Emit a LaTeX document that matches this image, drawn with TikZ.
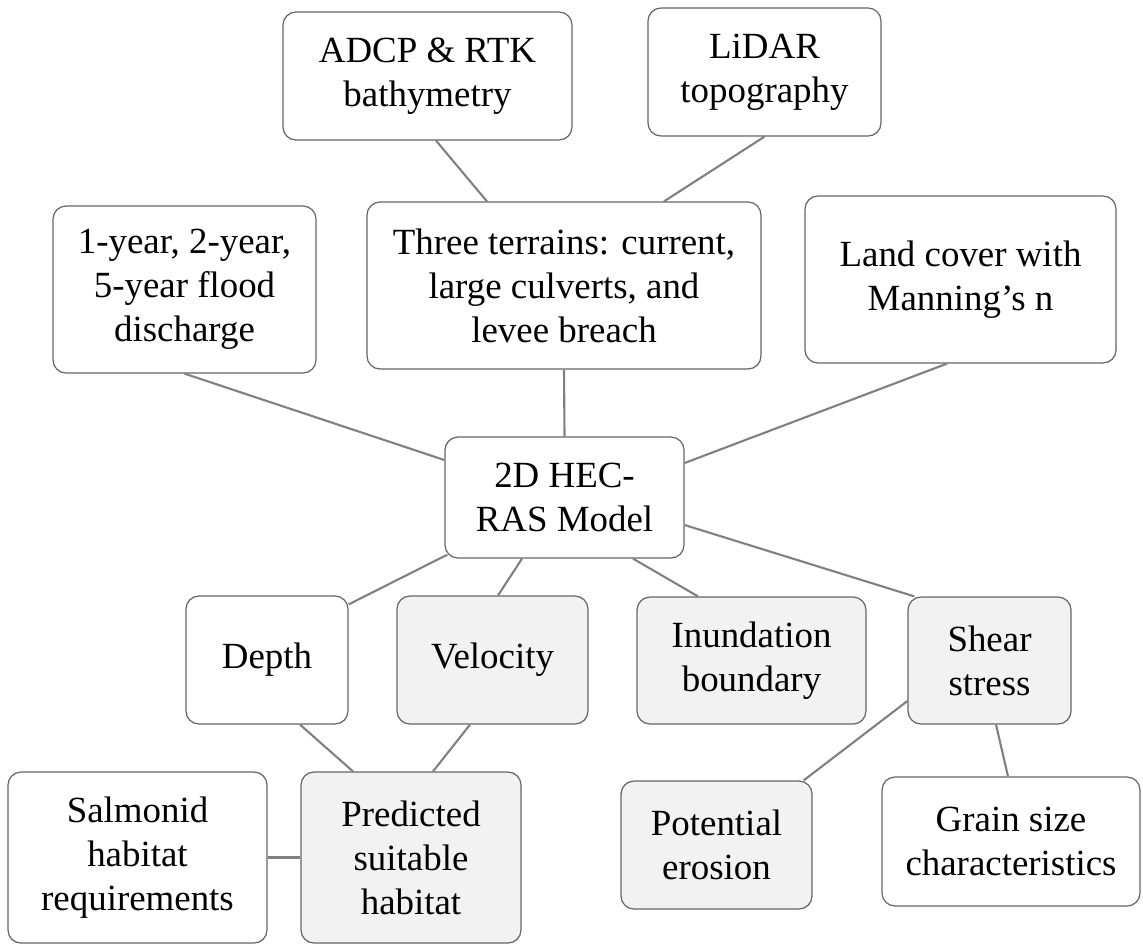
\documentclass[tikz,border=0pt]{standalone}
\usepackage{fontspec}
\setmainfont{Liberation Serif}
\usepackage{tikz}
\tikzset{
    every node/.style={align=center,font=\fontsize{10.5}{12.5}\selectfont,},
    box/.style={draw=black!60,line width=0.35pt,rectangle,rounded corners=1.3mm,inner sep=0pt,fill=white,},
    result/.style={box,fill=black!5,},
    link/.style={draw=black!50,line width=0.6pt,},
}

\begin{document}
\begin{tikzpicture}[x=0.1mm,y=-0.1mm]
                \useasboundingbox (0,0) rectangle (1143,945);

                % inputs
                \node[box,minimum width=28.9mm,minimum height=12.8mm] (adcp) at (427.5,76) {ADCP \& RTK\\bathymetry};
                \node[box,minimum width=23.3mm,minimum height=12.8mm] (lidar) at (764.5,72) {LiDAR\\topography};
                \node[box,minimum width=26.3mm,minimum height=16.7mm] (flood) at (184.5,289.5) {1-year, 2-year,\\5-year flood\\discharge};
                \node[box,minimum width=39.4mm,minimum height=16.7mm] (terrain) at (564,285.5) {Three terrains: current,\\large culverts, and\\levee breach};
                \node[box,minimum width=31.1mm,minimum height=16.7mm] (land_cover) at (960.5,279.5) {Land cover with\\Manning's n};

                \node[box,minimum width=23.9mm,minimum height=12.1mm] (hec_ras) at (564.5,497.5) {2D HEC-\\RAS Model};

                % outputs
                \node[box,minimum width=16.2mm,minimum height=12.8mm] (depth) at (267,660) {Depth};
                \node[result,minimum width=19.1mm,minimum height=12.8mm] (velocity) at (492.5,660) {Velocity};
                \node[result,minimum width=22.9mm,minimum height=12.7mm] (inundation) at (751.5,660.5) {Inundation\\boundary};
                \node[result,minimum width=16.3mm,minimum height=12.7mm] (shear) at (989.5,660.5) {Shear\\stress};

                \node[box,minimum width=25.9mm,minimum height=17.1mm] (salmonid) at (137.5,857.5) {Salmonid\\habitat\\requirements};
                \node[result,minimum width=22mm,minimum height=17.1mm] (habitat) at (411,857.5) {Predicted\\suitable\\habitat};
                \node[result,minimum width=19.1mm,minimum height=12.8mm] (erosion) at (716.5,845) {Potential\\erosion};
                \node[box,minimum width=25.8mm,minimum height=12.9mm] (grain) at (1011,841.5) {Grain size\\characteristics};

                \draw[link] ([shift={(8.5,0)}]adcp.south) to ([shift={(-77,0)}]terrain.north);
                \draw[link] (lidar.south) to ([shift={(100,0)}]terrain.north);
                \draw[link] (flood.south) to ([shift={(0,-37.5)}]hec_ras.west);
                \draw[link] (terrain.south) to (hec_ras.north);
                \draw[link] ([shift={(-13.5,0)}]land_cover.south) to ([shift={(0,-34.5)}]hec_ras.east);

                \draw[link] ([shift={(3,-4)}]hec_ras.south west) to ([shift={(0,9)}]depth.north east);
                \draw[link] ([shift={(-42.5,0)}]hec_ras.south) to ([shift={(5.5,0)}]velocity.north);
                \draw[link] ([shift={(68.5,0)}]hec_ras.south) to ([shift={(-53.5,0)}]inundation.north);
                \draw[link] ([shift={(0,27.5)}]hec_ras.east) to ([shift={(7,0)}]shear.north west);

                \draw[link] ([shift={(33,0)}]depth.south) to ([shift={(-58,0)}]habitat.north);
                \draw[link] ([shift={(-22.5,0)}]velocity.south) to ([shift={(22,0)}]habitat.north);
                \draw[link] (salmonid.east) to (habitat.west);
                \draw[link] ([shift={(0,40.5)}]shear.west) to ([shift={(-9,0)}]erosion.north east);
                \draw[link] ([shift={(6.5,0)}]shear.south) to ([shift={(-3,0)}]grain.north);
            \end{tikzpicture}
\end{document}
